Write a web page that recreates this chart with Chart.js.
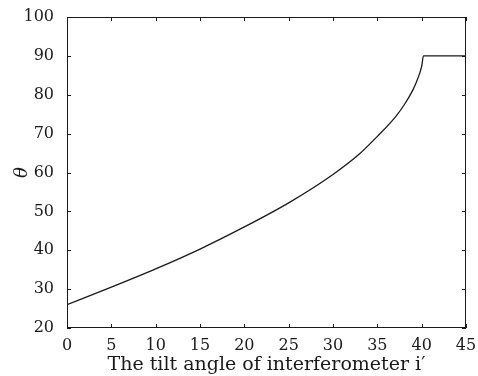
<!DOCTYPE html>
<html>
<head>
<meta charset="utf-8">
<script src="https://cdn.jsdelivr.net/npm/chart.js@4.4.1/dist/chart.umd.min.js"></script>
<style>
  html, body { margin: 0; padding: 0; background: #fff; }
  #wrap { width: 478px; height: 376px; }
</style>
</head>
<body>
<div id="wrap"><canvas id="thetaChart" width="478" height="376"></canvas></div>
<script>
// tilt angle i' (x) and theta (y)
const tiltAngles = [0, 5, 10, 15, 20, 25, 30, 33, 35, 37, 38, 39, 39.5, 40, 40.2, 40.3, 45];
const thetaValues = [26, 30.5, 35.2, 40.3, 46.0, 52.2, 59.5, 64.8, 69.3, 74.2, 77.3, 81.2, 83.8, 87.3, 90, 90, 90];
const xTicks = [0, 5, 10, 15, 20, 25, 30, 35, 40, 45];
const yTicks = [20, 30, 40, 50, 60, 70, 80, 90, 100];

const serif = '"DejaVu Serif", "Liberation Serif", serif';
const ink = '#1a1a1a';

// box frame + inward ticks on all four sides, like the matlab figure
const frameTicks = {
    id: 'frameTicks',
    afterDraw(chart) {
        const { ctx, chartArea: a, scales } = chart;
        const len = 4;
        ctx.save();
        ctx.strokeStyle = ink;
        ctx.lineWidth = 1;
        ctx.strokeRect(a.left + 0.5, a.top + 0.5, a.right - a.left - 1, a.bottom - a.top - 1);
        ctx.beginPath();
        xTicks.forEach(v => {
            const px = Math.round(scales.x.getPixelForValue(v)) + 0.5;
            ctx.moveTo(px, a.bottom); ctx.lineTo(px, a.bottom - len);
            ctx.moveTo(px, a.top); ctx.lineTo(px, a.top + len);
        });
        yTicks.forEach(v => {
            const py = Math.round(scales.y.getPixelForValue(v)) + 0.5;
            ctx.moveTo(a.left, py); ctx.lineTo(a.left + len, py);
            ctx.moveTo(a.right, py); ctx.lineTo(a.right - len, py);
        });
        ctx.stroke();
        ctx.restore();
    }
};

new Chart(document.getElementById('thetaChart'), {
    type: 'line',
    data: {
        datasets: [{
            data: tiltAngles.map((x, i) => ({ x: x, y: thetaValues[i] })),
            borderColor: ink,
            borderWidth: 1.3,
            pointRadius: 0,
            fill: false,
            cubicInterpolationMode: 'monotone'
        }]
    },
    options: {
        responsive: false,
        animation: false,
        layout: { padding: { top: 17, right: 12, left: 0, bottom: 0 } },
        plugins: { legend: { display: false }, tooltip: { enabled: false } },
        scales: {
            x: {
                type: 'linear',
                min: 0,
                max: 45,
                afterBuildTicks: s => { s.ticks = xTicks.map(v => ({ value: v })); },
                afterFit: s => { s.height = 48; },
                grid: { display: false },
                border: { display: false },
                ticks: { color: ink, padding: 0, font: { family: serif, size: 16 } },
                title: {
                    display: true,
                    text: 'The tilt angle of interferometer i\u2032',
                    color: ink,
                    padding: { top: 0, bottom: 0 },
                    font: { family: serif, size: 19 }
                }
            },
            y: {
                type: 'linear',
                min: 20,
                max: 100,
                afterBuildTicks: s => { s.ticks = yTicks.map(v => ({ value: v })); },
                afterFit: s => { s.width = 67; },
                grid: { display: false },
                border: { display: false },
                ticks: { color: ink, padding: 5, font: { family: serif, size: 16 } },
                title: {
                    display: true,
                    text: '\u03b8',
                    color: ink,
                    padding: { top: 12, bottom: 0 },
                    font: { family: serif, size: 18, style: 'italic' }
                }
            }
        }
    },
    plugins: [frameTicks]
});
</script>
</body>
</html>
